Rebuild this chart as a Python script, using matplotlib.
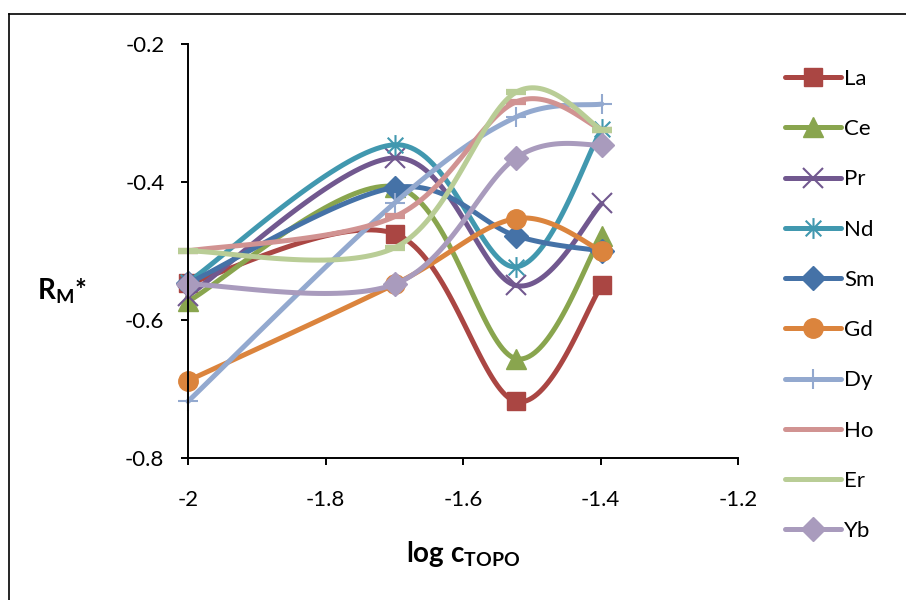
import numpy as np
import matplotlib
matplotlib.use("Agg")
import matplotlib.pyplot as plt
from matplotlib.path import Path
from matplotlib.lines import Line2D

plt.rcParams['font.family'] = ['Lato', 'DejaVu Sans']
plt.rcParams['axes.unicode_minus'] = False
plt.rcParams['mathtext.fontset'] = 'custom'
plt.rcParams['mathtext.rm'] = 'Lato'
plt.rcParams['mathtext.bf'] = 'Lato:bold'

# log c(TOPO): 0.01, 0.02, 0.03, 0.04 M
log_c = [-2.0, -1.699, -1.523, -1.398]

elements = ["La", "Ce", "Pr", "Nd", "Sm", "Gd", "Dy", "Ho", "Er", "Yb"]
La = [-0.547, -0.475, -0.718, -0.550]
Ce = [-0.573, -0.407, -0.656, -0.478]
Pr = [-0.565, -0.365, -0.550, -0.431]
Nd = [-0.545, -0.346, -0.523, -0.323]
Sm = [-0.547, -0.408, -0.478, -0.500]
Gd = [-0.688, -0.548, -0.453, -0.500]
Dy = [-0.718, -0.430, -0.306, -0.287]
Ho = [-0.500, -0.450, -0.284, -0.324]
Er = [-0.500, -0.495, -0.270, -0.324]
Yb = [-0.548, -0.548, -0.365, -0.346]
series = [La, Ce, Pr, Nd, Sm, Gd, Dy, Ho, Er, Yb]

colors = ["#AA4643", "#89A54E", "#71588F", "#4198AF", "#4572A7",
          "#DB843D", "#93A9CF", "#D19392", "#B9CD96", "#A99BBD"]

# excel style "*" marker: vertical bar + X
star = Path([(0, -1), (0, 1), (-0.75, -0.75), (0.75, 0.75), (-0.75, 0.75), (0.75, -0.75)],
            [Path.MOVETO, Path.LINETO, Path.MOVETO, Path.LINETO, Path.MOVETO, Path.LINETO])

markers = ['s', '^', 'x', star, 'D', 'o', '+', '_', '_', 'D']
msizes = [13, 14, 14, 15, 12, 14, 15, 14, 14, 12]
mews = [1, 1, 1.5, 1.5, 1, 1, 1.5, 4.5, 4.5, 1]


def smooth(xs, ys, n=40):
    # catmull-rom like bezier, similar to excel "smoothed line"
    P = np.column_stack([xs, ys])
    out = []
    for i in range(len(P) - 1):
        p0 = P[max(i - 1, 0)]
        p1 = P[i]
        p2 = P[i + 1]
        p3 = P[min(i + 2, len(P) - 1)]
        c1 = p1 + (p2 - p0) / 6.0
        c2 = p2 - (p3 - p1) / 6.0
        t = np.linspace(0, 1, n)[:, None]
        seg = (1 - t) ** 3 * p1 + 3 * (1 - t) ** 2 * t * c1 + 3 * (1 - t) * t ** 2 * c2 + t ** 3 * p2
        out.append(seg if i == 0 else seg[1:])
    return np.vstack(out)


fig = plt.figure(figsize=(9.06, 6), dpi=100)
ax = fig.add_axes([188 / 906, 142 / 600, 550 / 906, 414 / 600])

handles = []
for name, ys, c, m, ms, mew in zip(elements, series, colors, markers, msizes, mews):
    curve = smooth(log_c, ys)
    ax.plot(curve[:, 0], curve[:, 1], color=c, lw=3.6, solid_capstyle='round', clip_on=False)
    ax.plot(log_c, ys, ls='none', marker=m, ms=ms, mew=mew, color=c, mec=c, clip_on=False)
    # legend: dash markers would just merge with the line
    lm = 'None' if m == '_' else m
    handles.append(Line2D([], [], color=c, lw=3.6, marker=lm, ms=ms, mew=mew, mec=c,
                          solid_capstyle='round', label=name))

ax.set_xlim(-2, -1.2)
ax.set_ylim(-0.8, -0.2)
ax.set_xticks([-2, -1.8, -1.6, -1.4, -1.2])
ax.set_xticklabels(["-2", "-1.8", "-1.6", "-1.4", "-1.2"])
ax.set_yticks([-0.8, -0.6, -0.4, -0.2])
ax.set_yticklabels(["-0.8", "-0.6", "-0.4", "-0.2"])
for s in ['top', 'right']:
    ax.spines[s].set_visible(False)
for s in ['left', 'bottom']:
    ax.spines[s].set_linewidth(1.4)
ax.tick_params(axis='both', direction='out', length=5, width=1.4, labelsize=16)
ax.tick_params(axis='x', pad=18)
ax.tick_params(axis='y', pad=12)

fig.text(37 / 906, 1 - 299 / 600, r'R$_\mathbf{M}$*', fontsize=20, fontweight='bold',
         ha='left', va='baseline')
fig.text(463 / 906, 1 - 562 / 600, r'log c$_\mathbf{TOPO}$', fontsize=20, fontweight='bold',
         ha='center', va='baseline')

fig.legend(handles=handles, loc='upper left', bbox_to_anchor=(785 / 906, 1 - 69 / 600),
           frameon=False, fontsize=16, handlelength=2.5, handletextpad=0.15,
           borderpad=0, borderaxespad=0, labelspacing=1.36)

# chart area border (cropped on right and bottom)
fig.add_artist(Line2D([9 / 906, 1], [1 - 14 / 600, 1 - 14 / 600], color='black', lw=1.2))
fig.add_artist(Line2D([9 / 906, 9 / 906], [0, 1 - 14 / 600], color='black', lw=1.2))

fig.savefig("out.png", dpi=100)
